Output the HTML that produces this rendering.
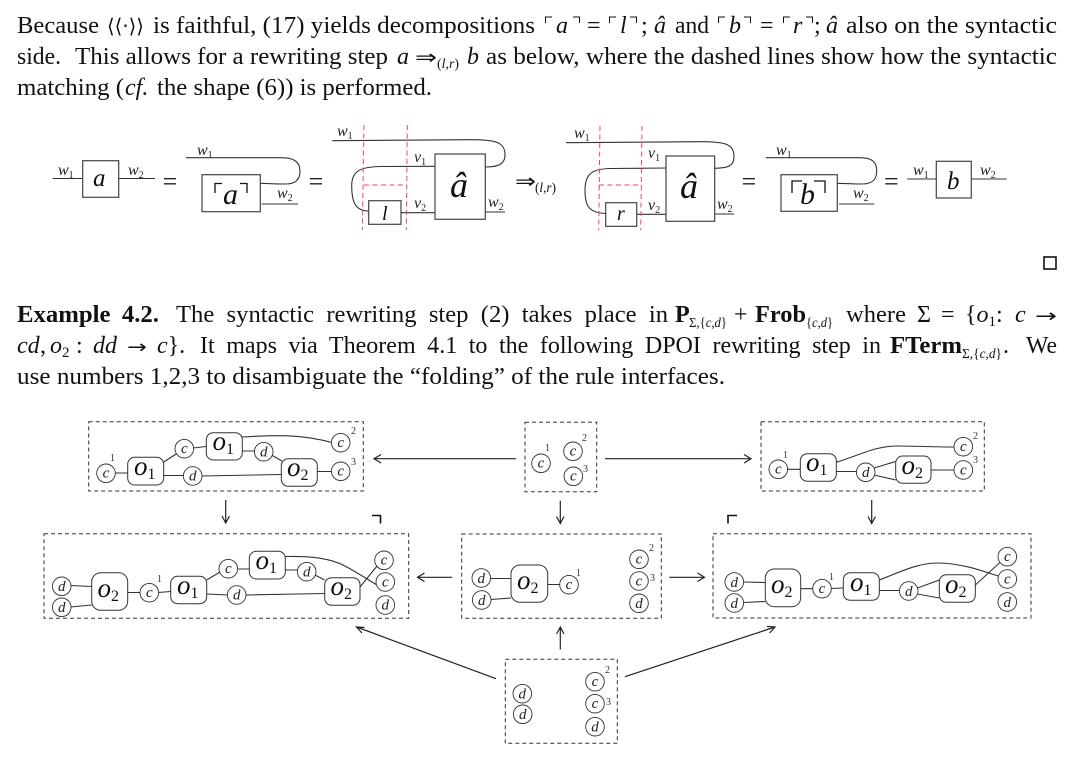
<!DOCTYPE html>
<html lang="en"><head><meta charset="utf-8"><title>Example 4.2</title>
<style>
html,body{margin:0;padding:0;background:#fff}
svg{display:block}
text{font-family:"Liberation Serif",serif;fill:#111}
.t{font-size:24px}
.b{font-size:24px;font-weight:bold}
.i{font-style:italic}
.s{font-size:14px}
.w{font-size:16px;font-style:italic;fill:#222}
.sb{font-size:10px;font-style:normal;fill:#222}
.bx{fill:#fff;stroke:#444;stroke-width:1.2}
.ln{fill:none;stroke:#333;stroke-width:1.1}
.rd{fill:none;stroke:#f04a4a;stroke-width:1;stroke-dasharray:5 3.5}
.ds{fill:none;stroke:#333;stroke-width:1;stroke-dasharray:4 3}
.n{fill:#fff;stroke:#333;stroke-width:.9;r:9.3px}
.nt{font-size:15px;font-style:italic;text-anchor:middle;fill:#222}
.op{fill:#fff;stroke:#333;stroke-width:1}
.ot{font-size:27px;font-style:italic;fill:#111}
.ots{font-size:16px;font-style:normal;fill:#111}
.nm{font-size:10px;fill:#333}
.eq{font-size:26px;text-anchor:middle;fill:#222}
.ar{fill:none;stroke:#222;stroke-width:1.2}
.c{fill:none;stroke:#111;stroke-width:1}
</style></head><body>
<svg width="1080" height="758" viewBox="0 0 1080 758" xmlns="http://www.w3.org/2000/svg">
<rect width="1080" height="758" fill="#fff"/>

<!-- paragraph 1 -->
<text class="t" x="17" y="33" textLength="82" lengthAdjust="spacingAndGlyphs">Because</text>
<text x="107" y="33" textLength="37" lengthAdjust="spacingAndGlyphs" style="font-family:'DejaVu Sans',sans-serif;font-size:20px;font-weight:normal">⟨⟨·⟩⟩</text>
<text class="t" x="153" y="33" textLength="382" lengthAdjust="spacingAndGlyphs">is faithful, (17) yields decompositions</text>
<path class="c" d="M545.5 23V17H552M573 17H579.5V23M609.5 23V17H616M630 17H636.5V23M718.5 23V17H725M744 17H750.5V23M783.5 23V17H790M806 17H812.5V23"/>
<text class="t i" x="556" y="33">a</text>
<text class="t" x="587" y="33">=</text>
<text class="t i" x="620" y="33">l</text>
<text class="t" x="641" y="33">;</text>
<text class="t i" x="654" y="33">â</text>
<text class="t" x="675" y="33" textLength="34" lengthAdjust="spacingAndGlyphs">and</text>
<text class="t i" x="729" y="33">b</text>
<text class="t" x="760" y="33">=</text>
<text class="t i" x="793" y="33">r</text>
<text class="t" x="814" y="33">;</text>
<text class="t i" x="826" y="33">â</text>
<text class="t" x="846" y="33" textLength="211" lengthAdjust="spacingAndGlyphs">also on the syntactic</text>

<text class="t" x="17" y="64" textLength="44" lengthAdjust="spacingAndGlyphs">side.</text>
<text class="t" x="75" y="64" textLength="313" lengthAdjust="spacingAndGlyphs">This allows for a rewriting step</text>
<text class="t i" x="397" y="64">a</text>
<text x="415" y="64" style="font-family:'DejaVu Sans',sans-serif;font-size:20px" textLength="22" lengthAdjust="spacingAndGlyphs">⇒</text>
<text class="s" x="437" y="68" textLength="22" lengthAdjust="spacingAndGlyphs">(<tspan class="i">l</tspan>,<tspan class="i">r</tspan>)</text>
<text class="t i" x="467" y="64">b</text>
<text class="t" x="486" y="64" textLength="571" lengthAdjust="spacingAndGlyphs">as below, where the dashed lines show how the syntactic</text>

<text class="t" x="17" y="95" textLength="107" lengthAdjust="spacingAndGlyphs">matching (</text>
<text class="t i" x="125" y="95">cf.</text>
<text class="t" x="157" y="95" textLength="275" lengthAdjust="spacingAndGlyphs">the shape (6)) is performed.</text>

<!-- string diagrams row -->
<path class="ln" d="M52.7 178.5H82.7M118.7 178.5H155"/>
<rect class="bx" x="82.7" y="160.7" width="36" height="36.6"/>
<text class="t i" x="93" y="186" style="font-size:25px">a</text>
<text class="w" x="58" y="175">w<tspan class="sb" dy="3">1</tspan></text>
<text class="w" x="128" y="175">w<tspan class="sb" dy="3">2</tspan></text>
<text class="eq" x="170" y="190">=</text>

<path class="ln" d="M186 157.7H282C294 157.7 300 162 300 171C300 179 296 184 286 184C276 184 268 183.5 260.3 183.3M261.7 204H298"/>
<rect class="bx" x="202" y="174.7" width="58.3" height="37"/>
<path class="c" d="M215 193V183.5H222M240 183.5H247V193" style="stroke-width:1.3"/>
<text class="t i" x="223" y="204" style="font-size:30px">a</text>
<text class="w" x="197" y="155">w<tspan class="sb" dy="3">1</tspan></text>
<text class="w" x="277" y="198">w<tspan class="sb" dy="3">2</tspan></text>
<text class="eq" x="316" y="190">=</text>

<path class="ln" d="M332.3 140.7L470 139.7C496 139.7 505 142 505 155C505 163 500 167 485.3 167M435 166.3L380 166.5C362 167 352 170 351.7 185C351.7 200 354 211 368.7 211M401 212.7H435M485.3 212H505"/>
<rect class="bx" x="368.7" y="200.7" width="32.3" height="23.6"/>
<rect class="bx" x="435" y="154" width="50.3" height="65.3"/>
<path class="rd" d="M364 125L362.3 230M407.3 125L406.3 230M364 185H407"/>
<text class="t i" x="382" y="220" style="font-size:20px">l</text>
<text class="t i" x="450" y="197" style="font-size:36px">â</text>
<text class="w" x="337" y="136">w<tspan class="sb" dy="3">1</tspan></text>
<text class="w" x="414" y="162">v<tspan class="sb" dy="3">1</tspan></text>
<text class="w" x="414" y="208">v<tspan class="sb" dy="3">2</tspan></text>
<text class="w" x="488" y="207">w<tspan class="sb" dy="3">2</tspan></text>
<text x="515" y="188" style="font-family:'DejaVu Sans',sans-serif;font-size:20px" textLength="21" lengthAdjust="spacingAndGlyphs">⇒</text>
<text class="s" x="535" y="192" textLength="21" lengthAdjust="spacingAndGlyphs">(<tspan class="i">l</tspan>,<tspan class="i">r</tspan>)</text>

<path class="ln" d="M566 142.7L700 141.7C726 141.7 734 144 734 157C734 165 729 168.3 714.7 168.3M666 168L610 168.5C593 169 585 173 585 190C585 205 588 212.7 605.7 213.5M636.7 214.3H666M714.7 214H734"/>
<rect class="bx" x="605.7" y="202.7" width="31" height="23.6"/>
<rect class="bx" x="666" y="156" width="48.7" height="65.3"/>
<path class="rd" d="M600 126L598.7 230M642 126L640.7 230M599 185H642"/>
<text class="t i" x="617" y="220" style="font-size:20px">r</text>
<text class="t i" x="680" y="198" style="font-size:36px">â</text>
<text class="w" x="574" y="138">w<tspan class="sb" dy="3">1</tspan></text>
<text class="w" x="648" y="158">v<tspan class="sb" dy="3">1</tspan></text>
<text class="w" x="648" y="210">v<tspan class="sb" dy="3">2</tspan></text>
<text class="w" x="717" y="209">w<tspan class="sb" dy="3">2</tspan></text>
<text class="eq" x="749" y="190">=</text>

<path class="ln" d="M765.7 157.7H860C872 157.7 876.7 162 876.7 171C876.7 179 873 184 862 184C852 184 845 183.5 837.3 183.3M839 204H874.3"/>
<rect class="bx" x="781" y="174.7" width="56.3" height="36.6"/>
<path class="c" d="M792 193V181H802M814 181H825V193" style="stroke-width:1.3"/>
<text class="t i" x="800" y="204" style="font-size:30px">b</text>
<text class="w" x="776" y="155">w<tspan class="sb" dy="3">1</tspan></text>
<text class="w" x="853" y="198">w<tspan class="sb" dy="3">2</tspan></text>
<text class="eq" x="891.3" y="190">=</text>

<path class="ln" d="M907.3 179H936.3M971.3 179H1006.7"/>
<rect class="bx" x="936.3" y="161.3" width="35" height="36.7"/>
<text class="t i" x="947" y="189" style="font-size:25px">b</text>
<text class="w" x="913" y="175">w<tspan class="sb" dy="3">1</tspan></text>
<text class="w" x="980" y="175">w<tspan class="sb" dy="3">2</tspan></text>

<rect x="1044" y="257" width="12" height="12" fill="none" stroke="#111" stroke-width="1.6"/>

<!-- paragraph 2 -->
<text class="b" x="17" y="322" textLength="142" lengthAdjust="spacingAndGlyphs" style="word-spacing:5px">Example 4.2.</text>
<text class="t" x="176" y="322" textLength="492" lengthAdjust="spacingAndGlyphs" style="word-spacing:6px">The syntactic rewriting step (2) takes place in</text>
<text class="b" x="675" y="322">P</text>
<text class="s" x="689" y="327" textLength="38" lengthAdjust="spacingAndGlyphs">Σ,{<tspan class="i">c</tspan>,<tspan class="i">d</tspan>}</text>
<text class="t" x="734" y="322">+</text>
<text class="b" x="755" y="322" textLength="51" lengthAdjust="spacingAndGlyphs">Frob</text>
<text class="s" x="806" y="327" textLength="27" lengthAdjust="spacingAndGlyphs">{<tspan class="i">c</tspan>,<tspan class="i">d</tspan>}</text>
<text class="t" x="846" y="322" textLength="60" lengthAdjust="spacingAndGlyphs">where</text>
<text class="t" x="917" y="322">Σ</text>
<text class="t" x="941" y="322">=</text>
<text class="t" x="965" y="322">{<tspan class="i">o</tspan><tspan font-size="15" dy="4">1</tspan><tspan dy="-4">:</tspan></text>
<text class="t i" x="1015" y="322">c</text>
<text x="1035" y="322" textLength="22" lengthAdjust="spacingAndGlyphs" style="font-family:'DejaVu Sans',sans-serif;font-size:18px;font-weight:normal">→</text>

<text class="t i" x="17" y="353">cd</text>
<text class="t" x="40" y="353">,</text>
<text class="t i" x="50" y="353">o</text>
<text x="62" y="357" font-size="15">2</text>
<text class="t" x="76" y="353">:</text>
<text class="t i" x="93" y="353">dd</text>
<text x="127" y="353" textLength="20" lengthAdjust="spacingAndGlyphs" style="font-family:'DejaVu Sans',sans-serif;font-size:18px;font-weight:normal">→</text>
<text class="t" x="157" y="353"><tspan class="i">c</tspan>}.</text>
<text class="t" x="200" y="353" textLength="681" lengthAdjust="spacingAndGlyphs" style="word-spacing:5.5px">It maps via Theorem 4.1 to the following DPOI rewriting step in</text>
<text class="b" x="890" y="353" textLength="72" lengthAdjust="spacingAndGlyphs">FTerm</text>
<text class="s" x="962" y="358" textLength="40" lengthAdjust="spacingAndGlyphs">Σ,{<tspan class="i">c</tspan>,<tspan class="i">d</tspan>}</text>
<text class="t" x="1003" y="353">.</text>
<text class="t" x="1026" y="353" textLength="31" lengthAdjust="spacingAndGlyphs">We</text>

<text class="t" x="17" y="384" textLength="708" lengthAdjust="spacingAndGlyphs">use numbers 1,2,3 to disambiguate the “folding” of the rule interfaces.</text>

<!-- dashed frames -->
<rect class="ds" x="88.7" y="421.7" width="274.6" height="69.3"/>
<rect class="ds" x="525" y="422.3" width="71.7" height="69.4"/>
<rect class="ds" x="761" y="421.7" width="223.3" height="69.3"/>
<rect class="ds" x="44" y="533.7" width="364.7" height="84.6"/>
<rect class="ds" x="461.7" y="534" width="199.6" height="84.3"/>
<rect class="ds" x="713" y="533.7" width="318" height="84.3"/>
<rect class="ds" x="505.3" y="659.3" width="112" height="84"/>

<!-- arrows -->
<path class="ar" d="M516 458.7H374M381 454.5L374 458.7L381 463M605 458.7H751M744 454.5L751 458.7L744 463M225.7 500V523M222 516L225.7 523L229.5 516M560.3 500.7V523.5M556.5 516.5L560.3 523.5L564 516.5M871.7 500V523.5M868 516.5L871.7 523.5L875.5 516.5M452 577.3H417.5M424.5 573L417.5 577.3L424.5 581.5M669.3 577.3H704.5M697.5 573L704.5 577.3L697.5 581.5M560.3 649.5V627M556.5 634L560.3 627L564 634M496 678.7L356.5 627M364.5 627.5L356.5 627L362 633M625 676.7L775 627M767 626.5L775 627L769.5 633"/>
<path d="M372 515.5H380.5V523.5M737 515.5H728V523.5" fill="none" stroke="#111" stroke-width="1.6"/>

<!-- top-left graph -->
<path class="ln" d="M115 473H127.7M163.7 462L184 449M193 448L206.3 446.5M163.7 475.5H184M201 476L281.3 474.5M242.3 437C275 435 300 434 332 442.5M242.3 451H255M271.5 455L282 461M317.3 471.5H332"/>
<circle class="n" cx="106" cy="473.3" r="9"/>
<rect class="op" x="127.7" y="457.3" width="36" height="27.7" rx="7"/>
<circle class="n" cx="184.3" cy="448.7" r="9"/>
<rect class="op" x="206.3" y="432.7" width="36" height="27.3" rx="7"/>
<circle class="n" cx="263.7" cy="451.7" r="9"/>
<circle class="n" cx="192.7" cy="476" r="9"/>
<rect class="op" x="281.3" y="458.7" width="36" height="27.6" rx="7"/>
<circle class="n" cx="340.7" cy="442.7" r="9"/>
<circle class="n" cx="340.7" cy="471.3" r="9"/>
<text class="nt" x="106" y="477.5">c</text><text class="nt" x="184.3" y="453">c</text><text class="nt" x="263.7" y="456.5">d</text><text class="nt" x="192.7" y="480.5">d</text><text class="nt" x="340.7" y="447">c</text><text class="nt" x="340.7" y="475.5">c</text>
<text class="ot" x="134" y="475">o<tspan class="ots" dy="4">1</tspan></text>
<text class="ot" x="212.5" y="450">o<tspan class="ots" dy="4">1</tspan></text>
<text class="ot" x="287" y="476">o<tspan class="ots" dy="4">2</tspan></text>
<text class="nm" x="110" y="461">1</text><text class="nm" x="351" y="434">2</text><text class="nm" x="351" y="465">3</text>

<!-- top-centre -->
<circle class="n" cx="541" cy="463.3" r="9"/><circle class="n" cx="573" cy="451.3" r="9.5"/><circle class="n" cx="573.3" cy="476.3" r="9"/>
<text class="nt" x="541" y="467.5">c</text><text class="nt" x="573" y="455.5">c</text><text class="nt" x="573.3" y="480.5">c</text>
<text class="nm" x="545" y="451">1</text><text class="nm" x="582" y="441">2</text><text class="nm" x="583" y="472">3</text>

<!-- top-right -->
<path class="ln" d="M787 469.3H800.3M836.3 462.3C860 455 875 446 897 446C915 446 935 447 954 447M836.3 471.5H857M874 468L895.7 461.5M874 475L895.7 480M931 470H954"/>
<circle class="n" cx="778.3" cy="469.3" r="9"/>
<rect class="op" x="800.3" y="453.7" width="36" height="27.6" rx="7"/>
<circle class="n" cx="865.7" cy="472.3" r="9"/>
<rect class="op" x="895.7" y="456" width="35.3" height="27.3" rx="7"/>
<circle class="n" cx="963.3" cy="446.7" r="9"/><circle class="n" cx="963.3" cy="470" r="9"/>
<text class="nt" x="778.3" y="473.5">c</text><text class="nt" x="865.7" y="477">d</text><text class="nt" x="963.3" y="451">c</text><text class="nt" x="963.3" y="474.5">c</text>
<text class="ot" x="806" y="471">o<tspan class="ots" dy="4">1</tspan></text>
<text class="ot" x="901.5" y="474">o<tspan class="ots" dy="4">2</tspan></text>
<text class="nm" x="783" y="458">1</text><text class="nm" x="973" y="439">2</text><text class="nm" x="973" y="463">3</text>

<!-- middle-left -->
<path class="ln" d="M70.5 585.5L91.7 586.5M70.5 607L91.7 605M127.7 592.5H140.5M158 592.5L170.7 591.5M206.7 580L220 572M237 569H249.3M285.3 556.5C310 556 330 558 345 566C360 574 370 581 377 585M285.3 570H298M315 575L324.7 580M206.7 594L228 595M245.5 595L324.7 593.5M360 587L377 566"/>
<circle class="n" cx="61.7" cy="586.3" r="9"/><circle class="n" cx="61.7" cy="607.3" r="9"/>
<rect class="op" x="91.7" y="572.7" width="36" height="37.6" rx="9"/>
<circle class="n" cx="149.3" cy="592.7" r="9"/>
<rect class="op" x="170.7" y="576.3" width="36" height="27.4" rx="7"/>
<circle class="n" cx="228.3" cy="568.7" r="9"/>
<rect class="op" x="249.3" y="551.3" width="36" height="27.7" rx="7"/>
<circle class="n" cx="306.7" cy="571.7" r="9"/>
<circle class="n" cx="236.7" cy="595" r="9"/>
<rect class="op" x="324.7" y="577.7" width="35.3" height="27.6" rx="7"/>
<circle class="n" cx="384" cy="560.3" r="9"/><circle class="n" cx="385.3" cy="582" r="9"/><circle class="n" cx="385.3" cy="605" r="9"/>
<text class="nt" x="61.7" y="591">d</text><text class="nt" x="61.7" y="612">d</text><text class="nt" x="149.3" y="597">c</text><text class="nt" x="228.3" y="573">c</text><text class="nt" x="306.7" y="576.5">d</text><text class="nt" x="236.7" y="599.5">d</text><text class="nt" x="384" y="564.5">c</text><text class="nt" x="385.3" y="586.5">c</text><text class="nt" x="385.3" y="609.5">d</text>
<text class="ot" x="97.5" y="597">o<tspan class="ots" dy="4">2</tspan></text>
<text class="ot" x="177" y="594">o<tspan class="ots" dy="4">1</tspan></text>
<text class="ot" x="255.5" y="569">o<tspan class="ots" dy="4">1</tspan></text>
<text class="ot" x="330.5" y="595">o<tspan class="ots" dy="4">2</tspan></text>
<text class="nm" x="157" y="582">1</text>

<!-- middle-centre -->
<path class="ln" d="M490 578.5H511M490.5 599.5L511 598M547.7 584.5H560"/>
<circle class="n" cx="481.3" cy="578" r="9"/><circle class="n" cx="481.7" cy="600" r="9"/>
<rect class="op" x="511" y="565" width="36.7" height="37.3" rx="9"/>
<circle class="n" cx="569" cy="584.7" r="9"/>
<circle class="n" cx="639" cy="559.3" r="9"/><circle class="n" cx="639" cy="581" r="9"/><circle class="n" cx="639" cy="603.3" r="9"/>
<text class="nt" x="481.3" y="583">d</text><text class="nt" x="481.7" y="605">d</text><text class="nt" x="569" y="589">c</text><text class="nt" x="639" y="563.5">c</text><text class="nt" x="639" y="585.5">c</text><text class="nt" x="639" y="608">d</text>
<text class="ot" x="517" y="589">o<tspan class="ots" dy="4">2</tspan></text>
<text class="nm" x="576" y="576">1</text><text class="nm" x="649" y="551">2</text><text class="nm" x="650" y="581">3</text>

<!-- middle-right -->
<path class="ln" d="M743 582L765.3 582.5M743 602.5L765.3 601.5M800.7 588.7H813M831 588.5L843.3 588M879.3 580C900 572 918 563 937 563C960 563 980 570 998 576M879.3 590.5H899.7M917.5 588L939.3 580M917.5 594L939.3 598M975.3 585L1000.5 562"/>
<circle class="n" cx="734.3" cy="582" r="9"/><circle class="n" cx="734.3" cy="603" r="9"/>
<rect class="op" x="765.3" y="569" width="35.4" height="37.7" rx="9"/>
<circle class="n" cx="822" cy="588.7" r="9"/>
<rect class="op" x="843.3" y="572.7" width="36" height="27.6" rx="7"/>
<circle class="n" cx="908.7" cy="591" r="9"/>
<rect class="op" x="939.3" y="574.7" width="36" height="27.6" rx="7"/>
<circle class="n" cx="1007.3" cy="556.7" r="9"/><circle class="n" cx="1007.3" cy="579" r="9"/><circle class="n" cx="1007.3" cy="602" r="9"/>
<text class="nt" x="734.3" y="587">d</text><text class="nt" x="734.3" y="608">d</text><text class="nt" x="822" y="593">c</text><text class="nt" x="908.7" y="596">d</text><text class="nt" x="1007.3" y="561">c</text><text class="nt" x="1007.3" y="583.5">c</text><text class="nt" x="1007.3" y="607">d</text>
<text class="ot" x="771" y="593">o<tspan class="ots" dy="4">2</tspan></text>
<text class="ot" x="850" y="591">o<tspan class="ots" dy="4">1</tspan></text>
<text class="ot" x="945" y="593">o<tspan class="ots" dy="4">2</tspan></text>
<text class="nm" x="829" y="580">1</text>

<!-- bottom -->
<circle class="n" cx="522.3" cy="693.7" r="9"/><circle class="n" cx="522.7" cy="714.3" r="9"/>
<circle class="n" cx="595" cy="681.7" r="9"/><circle class="n" cx="595" cy="703.7" r="9"/><circle class="n" cx="595" cy="726.7" r="9"/>
<text class="nt" x="522.3" y="698.5">d</text><text class="nt" x="522.7" y="719">d</text><text class="nt" x="595" y="686">c</text><text class="nt" x="595" y="708">c</text><text class="nt" x="595" y="731.5">d</text>
<text class="nm" x="605" y="673">2</text><text class="nm" x="606" y="705">3</text>
</svg>
</body></html>
